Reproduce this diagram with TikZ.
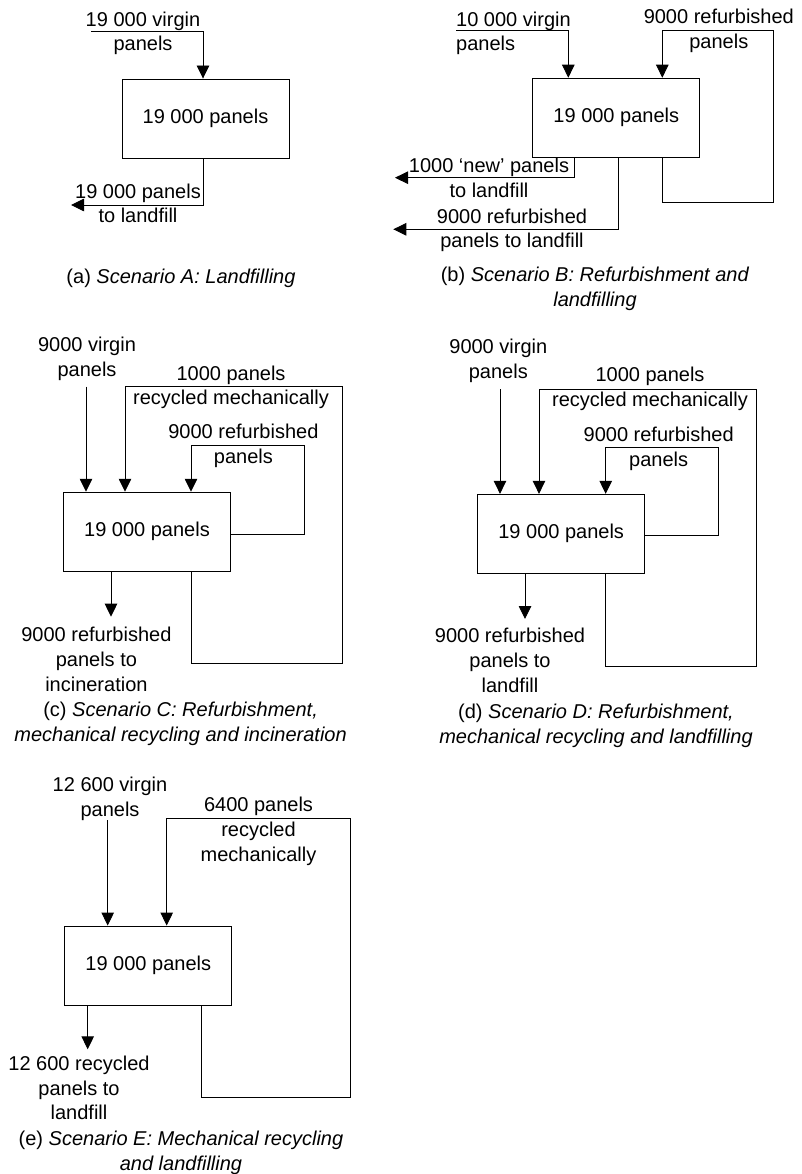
\documentclass[tikz,border=0pt]{standalone}
\usepackage{fontspec}
\setmainfont{Liberation Sans}
\usetikzlibrary{arrows.meta}
\begin{document}
\begin{tikzpicture}[x=1pt,y=-1pt,
  every node/.style={font=\fontsize{20}{24.8}\selectfont, inner sep=0pt},
  lbl/.style={align=center, anchor=north},
  lbll/.style={align=left, anchor=north west},
  stock/.style={draw, line width=0.9pt, minimum width=167pt, minimum height=79pt},
  flow/.style={line width=0.9pt, -{Triangle[length=13pt,width=12.5pt]}}]
\useasboundingbox (0,0) rectangle (802,1174);

% ---------------- (a) Landfilling
\node[stock] (boxA) at (205.5,118.5) {19 000 panels};
\coordinate (a-in) at (91,31.7);
\coordinate (a-out) at (71,205);
\draw[flow] (a-in) -| ([xshift=-2.5pt]boxA.north);
\draw[flow] ([xshift=-2.5pt]boxA.south) |- (a-out);
\node[lbl] (la-in) at (143,11.5) {19 000 virgin\\panels};
\node[lbl] (la-out) at (138,183.5) {19 000 panels\\to landfill};
\node[lbl] (capA) at (181,268.5) {(a) \textit{Scenario A: Landfilling}};

% ---------------- (b) Refurbishment and landfilling
\node[stock] (boxB) at (616.3,117.7) {19 000 panels};
\coordinate (b-in) at (456,30.7);
\coordinate (b-r1) at (773.3,202.7);
\coordinate (b-r2) at (773.3,30.7);
\coordinate (b-out1) at (395,177.7);
\coordinate (b-out2) at (393.3,229.3);
\draw[flow] (b-in) -| ([xshift=-48pt]boxB.north);
\draw[flow] ([xshift=46pt]boxB.south) |- (b-r1) -- (b-r2) -| ([xshift=46pt]boxB.north);
\draw[flow] ([xshift=-42.3pt]boxB.south) |- (b-out1);
\draw[flow] ([xshift=2pt]boxB.south) |- (b-out2);
\node[lbll] (lb-in) at (456,11.5) {10 000 virgin\\panels};
\node[lbl] (lb-ref) at (718.8,8.8) {9000 refurbished\\panels};
\node[lbl] (lb-out1) at (489,158.2) {1000 ‘new’ panels\\to landfill};
\node[lbl] (lb-out2) at (512,208.5) {9000 refurbished\\panels to landfill};
\node[lbl] (capB) at (595,267.2) {(b) \textit{Scenario B: Refurbishment and}\\\textit{landfilling}};

% ---------------- (c) Refurbishment, mechanical recycling and incineration
\node[stock] (boxC) at (147,531.7) {19 000 panels};
\coordinate (c-in) at (86,386.7);
\coordinate (c-m1) at (342.3,663.3);
\coordinate (c-m2) at (342.3,386);
\coordinate (c-r1) at (304,445.7);
\coordinate (c-out) at (111,616.7);
\draw[flow] (c-in) -- (c-in |- boxC.north);
\draw[flow] ([xshift=44pt]boxC.south) |- (c-m1) -- (c-m2) -| ([xshift=-22pt]boxC.north);
\draw[flow] ([yshift=-2.3pt]boxC.east) -| (c-r1) -| ([xshift=44pt]boxC.north);
\draw[flow] (c-out |- boxC.south) -- (c-out);
\node[lbl] (lc-in) at (87,337.2) {9000 virgin\\panels};
\node[lbl] (lc-mech) at (231,365.5) {1000 panels\\recycled mechanically};
\node[lbl] (lc-ref) at (243.4,423.8) {9000 refurbished\\panels};
\node[lbl] (lc-out) at (96.4,627.2) {9000 refurbished\\panels to\\incineration};
\node[lbl] (capC) at (180.6,702.2) {(c) \textit{Scenario C: Refurbishment,}\\\textit{mechanical recycling and incineration}};

% ---------------- (d) Refurbishment, mechanical recycling and landfilling
\node[stock] (boxD) at (561.2,533.8) {19 000 panels};
\coordinate (d-in) at (500,389.3);
\coordinate (d-m1) at (756.7,666);
\coordinate (d-m2) at (756.7,389);
\coordinate (d-r1) at (718.3,447.7);
\coordinate (d-out) at (525,619);
\draw[flow] (d-in) -- (d-in |- boxD.north);
\draw[flow] ([xshift=43.8pt]boxD.south) |- (d-m1) -- (d-m2) -| ([xshift=-22.2pt]boxD.north);
\draw[flow] ([yshift=-1.2pt]boxD.east) -| (d-r1) -| ([xshift=44.5pt]boxD.north);
\draw[flow] (d-out |- boxD.south) -- (d-out);
\node[lbl] (ld-in) at (498.3,338.8) {9000 virgin\\panels};
\node[lbl] (ld-mech) at (650,367.2) {1000 panels\\recycled mechanically};
\node[lbl] (ld-ref) at (658.7,427.2) {9000 refurbished\\panels};
\node[lbl] (ld-out) at (510,628.2) {9000 refurbished\\panels to\\landfill};
\node[lbl] (capD) at (596,703.8) {(d) \textit{Scenario D: Refurbishment,}\\\textit{mechanical recycling and landfilling}};

% ---------------- (e) Mechanical recycling and landfilling
\node[stock] (boxE) at (148.3,965.5) {19 000 panels};
\coordinate (e-in) at (107.7,820);
\coordinate (e-m1) at (350.7,1097.7);
\coordinate (e-m2) at (350.7,818.3);
\coordinate (e-out) at (87.7,1049.3);
\draw[flow] (e-in) -- (e-in |- boxE.north);
\draw[flow] ([xshift=53.4pt]boxE.south) |- (e-m1) -- (e-m2) -| ([xshift=18.4pt]boxE.north);
\draw[flow] (e-out |- boxE.south) -- (e-out);
\node[lbl] (le-in) at (110,777.2) {12 600 virgin\\panels};
\node[lbl] (le-mech) at (258.5,797.2) {6400 panels\\recycled\\mechanically};
\node[lbl] (le-out) at (79,1055.5) {12 600 recycled\\panels to\\landfill};
\node[lbl] (capE) at (181,1130.5) {(e) \textit{Scenario E: Mechanical recycling}\\\textit{and landfilling}};
\end{tikzpicture}
\end{document}
